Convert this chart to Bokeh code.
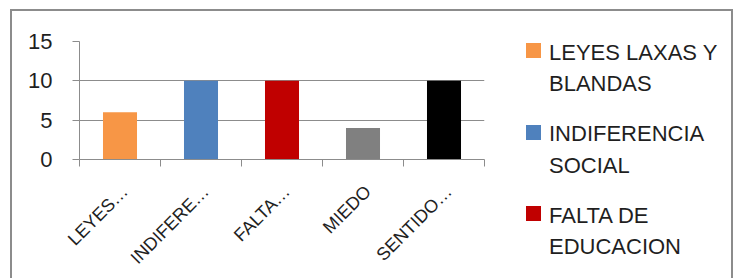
import math
from bokeh.plotting import figure
from bokeh.layouts import row
from bokeh.models import ColumnDataSource, FixedTicker, Range1d, Div
from bokeh.embed import file_html
from bokeh.resources import INLINE

# ---- data ----
tick_labels = ["LEYES…", "INDIFERE…", "FALTA…", "MIEDO", "SENTIDO…"]
values = [6, 10, 10, 4, 10]
colors = ["#F79646", "#4F81BD", "#C00000", "#808080", "#000000"]
legend_labels = ["LEYES LAXAS Y\nBLANDAS", "INDIFERENCIA\nSOCIAL", "FALTA DE\nEDUCACION"]
y_ticks = [0, 5, 10, 15]

n = len(values)
xs = [i + 0.5 for i in range(n)]
src = ColumnDataSource(dict(x=xs, top=values, color=colors, label=tick_labels))

FONT = "Liberation Sans"
TXT = "#1f1f1f"
GRID = "#8c8c8c"
H = 267
LEFT, TOP, BOTTOM = 67, 30, 119
CW = 488                       # chart part width
LABEL_SHIFT = 0.06

# ---------------- chart ----------------
p = figure(width=CW, height=H, output_backend="svg", toolbar_location=None,
           x_range=Range1d(0, n), y_range=Range1d(0, 15),
           min_border_left=LEFT, min_border_right=CW - LEFT - 405,
           min_border_top=TOP, min_border_bottom=BOTTOM)
p.outline_line_color = None
p.background_fill_color = "white"
p.border_fill_color = "white"

r = p.vbar(x="x", top="top", bottom=0, width=0.42, fill_color="color",
           line_color=None, source=src)

label_pos = [x + LABEL_SHIFT for x in xs]
xa = p.xaxis[0]
xa.ticker = FixedTicker(ticks=label_pos, minor_ticks=list(range(n + 1)))
xa.major_label_overrides = {x: l for x, l in zip(label_pos, tick_labels)}
xa.major_tick_line_color = None
xa.major_tick_in = 0
xa.major_tick_out = 0
xa.minor_tick_in = 0
xa.minor_tick_out = 7
xa.minor_tick_line_color = GRID
xa.axis_line_color = GRID
xa.major_label_orientation = math.pi / 4
xa.major_label_text_font = FONT
xa.major_label_text_font_size = "18px"
xa.major_label_text_color = TXT
xa.major_label_standoff = 22

ya = p.yaxis[0]
ya.ticker = FixedTicker(ticks=y_ticks)
ya.major_tick_in = 0
ya.major_tick_out = 7
ya.major_tick_line_color = GRID
ya.minor_tick_line_color = None
ya.axis_line_color = GRID
ya.major_label_text_font = FONT
ya.major_label_text_font_size = "22px"
ya.major_label_text_color = TXT
ya.major_label_standoff = 20

p.xgrid.grid_line_color = None
p.ygrid.grid_line_color = GRID
p.ygrid.ticker = FixedTicker(ticks=y_ticks)

# ---------------- legend panel ----------------
LW = 231
ITEM_TOP, PITCH, LINE = 31, 81.5, 31
SQ_X, SQ, TX = 26, 15, 49
parts = []
for i, lab in enumerate(legend_labels):
    top = ITEM_TOP + i * PITCH
    parts.append(
        f'<div style="position:absolute;left:{SQ_X}px;top:{top + 1:.0f}px;'
        f'width:{SQ}px;height:{SQ}px;background:{colors[i]};"></div>')
    for j, line in enumerate(lab.split("\n")):
        parts.append(
            f'<div style="position:absolute;left:{TX}px;top:{top + j * LINE:.0f}px;'
            f'line-height:22px;white-space:nowrap;">{line}</div>')
html = (f'<div style="position:relative;width:{LW}px;height:{H}px;'
        f"font-family:'{FONT}';font-size:22px;color:{TXT};background:white;\">"
        + "".join(parts) + "</div>")
leg = Div(text=html, width=LW, height=H, margin=(0, 0, 0, 0))

layout = row(p, leg)
layout.styles = {"border-top": "2px solid #8c8c8c", "border-left": "2px solid #8c8c8c",
                 "border-right": "2px solid #8c8c8c", "margin-left": "10px",
                 "margin-top": "9px"}

open("out.html", "w").write(file_html(layout, INLINE))
